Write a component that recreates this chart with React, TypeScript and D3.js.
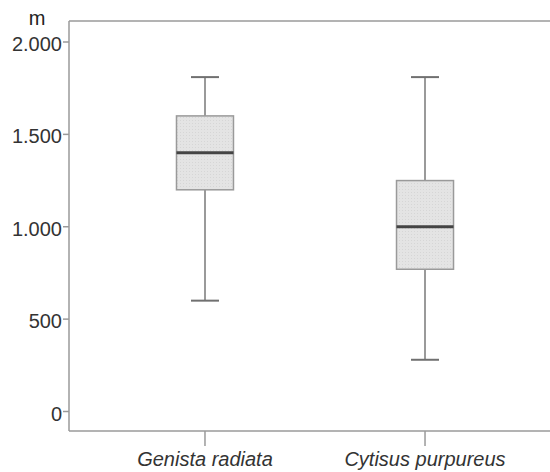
import React from "react";
import * as d3 from "d3";

// species on the x axis
const species = ["Genista radiata", "Cytisus purpureus"];
// box plot stats per species (m)
const whiskerLow = [600, 280];
const q1 = [1200, 770];
const median = [1400, 1000];
const q3 = [1600, 1250];
const whiskerHigh = [1810, 1810];
const yTicks = [0, 500, 1000, 1500, 2000];

const W = 550, H = 472;
const margin = {top: 21, left: 69, bottom: 41};

export default function App() {
    const x = d3.scalePoint<string>()
        .domain(species)
        .range([margin.left, 561])
        .padding(0.618);

    const y = d3.scaleLinear()
        .domain([0, 2000])
        .range([411.5, 42]);

    const fmt = (v: number) => d3.format(",")(v).replace(",", ".");
    const boxW = 57, capW = 28;
    const axisBottom = H - margin.bottom;
    const grey = "#9a9a9a";

    return (
        <svg width={W} height={H} style={{position: "absolute", left: 0, top: 0, background: "#fff"}}
             fontFamily="'Liberation Sans', Arial, sans-serif">
            <defs>
                <pattern id="dots" width="3" height="3" patternUnits="userSpaceOnUse">
                    <rect width="3" height="3" fill="#e4e4e4"/>
                    <rect width="1" height="1" fill="#d6d6d6"/>
                </pattern>
            </defs>

            {/* frame */}
            <line x1={margin.left} x2={W} y1={margin.top} y2={margin.top} stroke={grey} strokeWidth={1.5}/>
            <line x1={margin.left} x2={W} y1={axisBottom} y2={axisBottom} stroke={grey} strokeWidth={1.5}/>
            <line x1={margin.left} x2={margin.left} y1={margin.top} y2={axisBottom} stroke={grey} strokeWidth={1.5}/>

            <text x={37} y={25} fontSize={20} textAnchor="middle" fill="#222">m</text>

            {yTicks.map(t => (
                <g key={t}>
                    <line x1={margin.left - 6} x2={margin.left} y1={y(t)} y2={y(t)} stroke={grey} strokeWidth={1.5}/>
                    <text x={62} y={y(t) + 9} fontSize={20} textAnchor="end" fill="#333">{fmt(t)}</text>
                </g>
            ))}

            {species.map((s, i) => {
                const cx = x(s)!;
                return (
                    <g key={s}>
                        <line x1={cx} x2={cx} y1={axisBottom} y2={axisBottom + 15} stroke={grey} strokeWidth={1.5}/>
                        <text x={cx} y={axisBottom + 35} fontSize={20} fontStyle="italic" textAnchor="middle"
                              fill="#333">{s}</text>

                        <line x1={cx} x2={cx} y1={y(whiskerHigh[i])} y2={y(q3[i])} stroke={grey} strokeWidth={2}/>
                        <line x1={cx} x2={cx} y1={y(q1[i])} y2={y(whiskerLow[i])} stroke={grey} strokeWidth={2}/>
                        <line x1={cx - capW / 2} x2={cx + capW / 2} y1={y(whiskerHigh[i])} y2={y(whiskerHigh[i])}
                              stroke="#707070" strokeWidth={2}/>
                        <line x1={cx - capW / 2} x2={cx + capW / 2} y1={y(whiskerLow[i])} y2={y(whiskerLow[i])}
                              stroke="#707070" strokeWidth={2}/>
                        <rect x={cx - boxW / 2} y={y(q3[i])} width={boxW} height={y(q1[i]) - y(q3[i])}
                              fill="url(#dots)" stroke={grey} strokeWidth={1.5}/>
                        <line x1={cx - boxW / 2} x2={cx + boxW / 2} y1={y(median[i])} y2={y(median[i])}
                              stroke="#444" strokeWidth={3}/>
                    </g>
                );
            })}
        </svg>
    );
}
